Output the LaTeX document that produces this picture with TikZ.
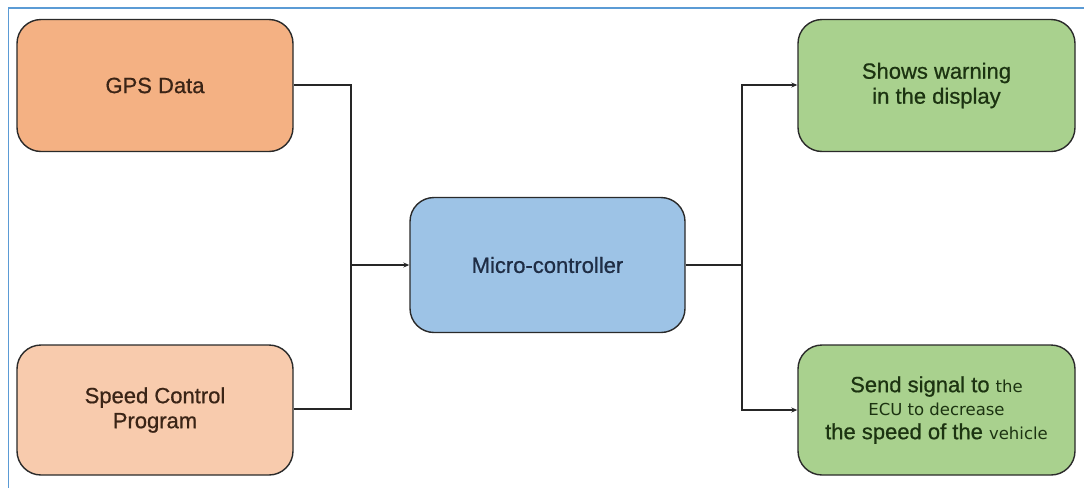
\documentclass[tikz,border=0pt]{standalone}
\usepackage{fontspec}
\setmainfont{Liberation Sans}[FakeBold=0.7]
\newfontfamily\smallsans{DejaVu Sans}
\usetikzlibrary{arrows.meta}
\definecolor{frameblue}{HTML}{5B9BD5}
\definecolor{gpsfill}{HTML}{F4B183}
\definecolor{spdfill}{HTML}{F8CBAD}
\definecolor{mcfill}{HTML}{9DC3E6}
\definecolor{grnfill}{HTML}{A9D18E}
\definecolor{gpstext}{HTML}{3A2416}
\definecolor{mctext}{HTML}{1F2D45}
\definecolor{grntext}{HTML}{1C3311}
\definecolor{edgecol}{HTML}{2A2A2A}
\newcommand{\sm}[1]{{\smallsans\fontsize{16.5}{23}\selectfont #1}}
\tikzset{
  blk/.style={draw=edgecol, line width=1.4pt, rounded corners=24pt,
    minimum width=276pt, minimum height=132pt, inner sep=0pt, align=center,
    font=\fontsize{22}{25}\selectfont},
  conn/.style={draw=black!85, line width=1.2pt},
  arr/.style={conn, -{Stealth[length=6pt,width=5pt]}},
}
\begin{document}
\begin{tikzpicture}[x=1pt,y=-1pt]
\useasboundingbox (0,0) rectangle (1084,488);
\draw[frameblue, line width=1.3pt] (1084,8) -- (8.5,8) -- (8.5,488);
\node[blk, fill=gpsfill, text=gpstext] (gps) at (155,85.5) {GPS Data};
\node[blk, fill=spdfill, text=gpstext, minimum height=130pt] (spd) at (155,410) {Speed Control\\Program};
\node[blk, fill=mcfill, text=mctext, minimum width=275pt, minimum height=135pt] (mc) at (547.5,265) {Micro-controller};
\node[blk, fill=grnfill, text=grntext, minimum width=277pt] (warn) at (936.5,85.5) {Shows warning\\in the display};
\node[blk, fill=grnfill, text=grntext, minimum width=277pt, minimum height=130pt] (ecu) at (936.5,410)
  {Send signal to \sm{the}\\[-2pt]
   \sm{ECU to decrease}\\[-1pt]
   the speed of the \sm{vehicle}};
\coordinate (jl) at (351,265);
\coordinate (jr) at (742,265);
\draw[conn] (gps.east |- 0,85) -| (jl);
\draw[conn] (spd.east |- 0,409) -| (jl);
\draw[arr] (jl) -- (mc.west);
\draw[conn] (mc.east) -- (jr);
\draw[arr] (jr) |- (warn.west |- 0,85);
\draw[arr] (jr) |- (ecu.west |- 0,410);
\end{tikzpicture}
\end{document}
